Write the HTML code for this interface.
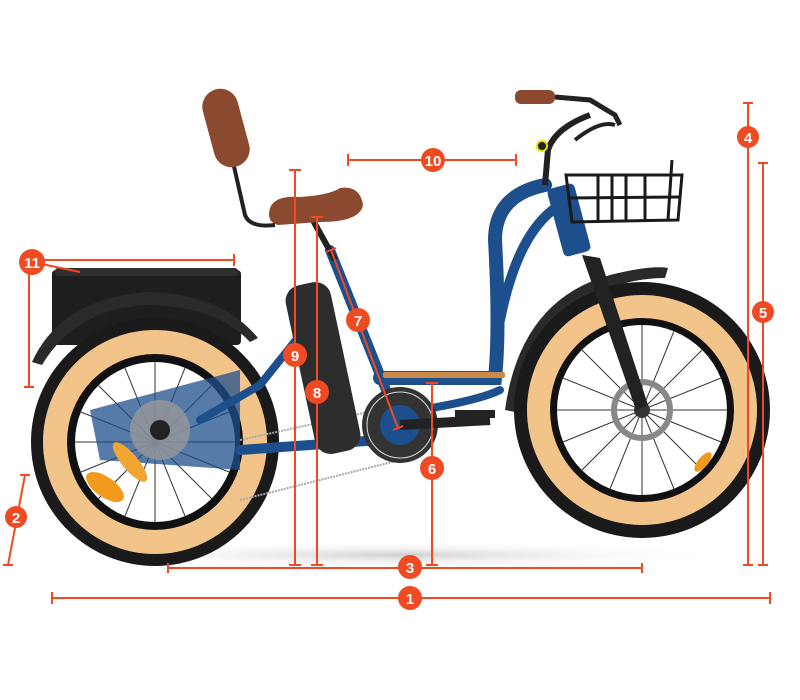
<!DOCTYPE html>
<html><head><meta charset="utf-8">
<style>
html,body{margin:0;padding:0;background:#fff;}
svg{display:block;}
text{font-family:"Liberation Sans",sans-serif;font-weight:bold;}
</style></head>
<body>
<svg width="800" height="700" viewBox="0 0 800 700" xmlns="http://www.w3.org/2000/svg">
<defs>
<radialGradient id="sh" cx="50%" cy="50%" r="50%">
<stop offset="0" stop-color="#bbb" stop-opacity="0.7"/><stop offset="1" stop-color="#fff" stop-opacity="0"/>
</radialGradient>
</defs>
<!-- shadows -->
<ellipse cx="400" cy="555" rx="330" ry="14" fill="url(#sh)"/>

<!-- rear box -->
<rect x="52" y="270" width="189" height="75" rx="4" fill="#1e1e1e"/>
<rect x="55" y="268" width="183" height="8" rx="3" fill="#2e2e2e"/>
<!-- rear fender -->
<path d="M32 362 Q60 300 145 292 Q220 292 258 338 L250 342 Q215 305 145 305 Q75 310 42 365 Z" fill="#2a2a2a"/>

<!-- rear wheel -->
<circle cx="155" cy="442" r="124" fill="#1a1a1a"/>
<circle cx="155" cy="442" r="112" fill="#f2c48a"/>
<circle cx="155" cy="442" r="88" fill="#111"/>
<circle cx="155" cy="442" r="80" fill="#fff"/>
<g stroke="#333" stroke-width="1">
<line x1="155" y1="362" x2="155" y2="522"/><line x1="75" y1="442" x2="235" y2="442"/>
<line x1="98" y1="385" x2="212" y2="499"/><line x1="98" y1="499" x2="212" y2="385"/>
<line x1="125" y1="368" x2="185" y2="516"/><line x1="81" y1="472" x2="229" y2="412"/>
<line x1="185" y1="368" x2="125" y2="516"/><line x1="81" y1="412" x2="229" y2="472"/>
</g>
<path d="M90 410 L240 370 L240 470 L100 460 Z" fill="#1d4f8c" opacity="0.75"/>
<circle cx="160" cy="430" r="30" fill="#999" opacity="0.8"/>
<circle cx="160" cy="430" r="10" fill="#222"/>
<ellipse cx="105" cy="487" rx="22" ry="10" transform="rotate(35 105 487)" fill="#f29a1e"/>
<ellipse cx="130" cy="462" rx="25" ry="8" transform="rotate(50 130 462)" fill="#f2a533"/>

<!-- front fender -->
<path d="M505 410 Q520 300 610 275 Q650 265 668 268 L665 278 Q610 278 560 315 Q520 350 515 412 Z" fill="#2a2a2a"/>

<!-- front wheel -->
<circle cx="642" cy="410" r="128" fill="#1a1a1a"/>
<circle cx="642" cy="410" r="115" fill="#f2c48a"/>
<circle cx="642" cy="410" r="92" fill="#111"/>
<circle cx="642" cy="410" r="85" fill="#fff"/>
<g stroke="#333" stroke-width="1">
<line x1="642" y1="325" x2="642" y2="495"/><line x1="557" y1="410" x2="727" y2="410"/>
<line x1="582" y1="350" x2="702" y2="470"/><line x1="582" y1="470" x2="702" y2="350"/>
<line x1="610" y1="331" x2="674" y2="489"/><line x1="563" y1="442" x2="721" y2="378"/>
<line x1="674" y1="331" x2="610" y2="489"/><line x1="563" y1="378" x2="721" y2="442"/>
</g>
<circle cx="642" cy="410" r="28" fill="none" stroke="#888" stroke-width="6"/>
<circle cx="642" cy="410" r="8" fill="#333"/>
<ellipse cx="703" cy="462" rx="12" ry="5" transform="rotate(-50 703 462)" fill="#f29a1e"/>

<!-- chain -->
<line x1="240" y1="440" x2="400" y2="405" stroke="#aaa" stroke-width="2" stroke-dasharray="2 1"/>
<line x1="240" y1="500" x2="400" y2="460" stroke="#aaa" stroke-width="2" stroke-dasharray="2 1"/>

<!-- frame -->
<g fill="none" stroke="#1d4f8c" stroke-linecap="round">
<path d="M200 420 L260 385 L320 310" stroke-width="8"/>
<path d="M240 450 L380 440" stroke-width="10"/>
<path d="M330 250 L400 425" stroke-width="10"/>
<path d="M380 378 L495 378 Q500 330 495 240 Q495 195 545 185" stroke-width="14"/>
<path d="M500 320 Q520 220 570 200" stroke-width="10"/>
<path d="M420 410 Q480 400 500 390" stroke-width="8"/>
</g>
<rect x="555" y="185" width="28" height="70" rx="5" fill="#1d4f8c" transform="rotate(-15 569 220)"/>
<!-- fork -->
<path d="M582 255 L600 258 L648 405 L636 410 Z" fill="#222"/>
<!-- footboard -->
<rect x="383" y="372" width="122" height="6" rx="2" fill="#c98a4a"/>
<!-- battery -->
<rect x="300" y="282" width="46" height="172" rx="16" fill="#2d2d2d" transform="rotate(-12 323 368)"/>
<!-- chainring -->
<circle cx="400" cy="425" r="38" fill="#333"/>
<circle cx="400" cy="425" r="33" fill="none" stroke="#ddd" stroke-width="1"/>
<circle cx="400" cy="425" r="20" fill="#1d4f8c"/>
<line x1="400" y1="425" x2="490" y2="420" stroke="#222" stroke-width="10"/>
<rect x="455" y="410" width="40" height="8" fill="#222"/>

<!-- seat -->
<line x1="310" y1="215" x2="335" y2="260" stroke="#222" stroke-width="6"/>
<path d="M270 208 Q275 195 300 197 Q330 195 340 188 Q360 185 363 205 Q360 222 320 222 L278 225 Q266 222 270 208 Z" fill="#8b4a2f"/>
<!-- backrest -->
<path d="M228 140 L245 215 Q250 228 275 225" fill="none" stroke="#222" stroke-width="4"/>
<rect x="208" y="88" width="36" height="80" rx="18" fill="#8b4a2f" transform="rotate(-15 226 128)"/>

<!-- stem & handlebar -->
<path d="M545 185 L548 150 Q555 128 590 115" fill="none" stroke="#222" stroke-width="6"/>
<circle cx="542" cy="146" r="5" fill="#222" stroke="#e8e000" stroke-width="2"/>
<rect x="515" y="90" width="40" height="14" rx="6" fill="#8b4a2f"/>
<path d="M555 97 L590 100 L615 115 L620 125" fill="none" stroke="#222" stroke-width="5"/>
<path d="M575 140 Q600 120 615 125" fill="none" stroke="#222" stroke-width="4"/>
<!-- basket -->
<g fill="none" stroke="#1a1a1a" stroke-width="3">
<path d="M566 175 L682 175 L678 220 L572 222 Z"/>
<line x1="568" y1="198" x2="680" y2="197"/>
<line x1="598" y1="175" x2="598" y2="222"/><line x1="612" y1="175" x2="612" y2="222"/>
<line x1="626" y1="175" x2="626" y2="222"/><line x1="645" y1="175" x2="645" y2="222"/>
<line x1="672" y1="160" x2="668" y2="220"/>
</g>

<!-- dimension lines -->
<g stroke="#f04a22" stroke-width="2" fill="none">
<line x1="52" y1="598" x2="770" y2="598"/><line x1="52" y1="592" x2="52" y2="604"/><line x1="770" y1="592" x2="770" y2="604"/>
<line x1="25" y1="475" x2="8" y2="565"/><line x1="20" y1="475" x2="30" y2="475"/><line x1="3" y1="565" x2="13" y2="565"/>
<line x1="168" y1="568" x2="642" y2="568"/><line x1="168" y1="563" x2="168" y2="573"/><line x1="642" y1="563" x2="642" y2="573"/>
<line x1="748" y1="103" x2="748" y2="565"/><line x1="743" y1="103" x2="753" y2="103"/><line x1="743" y1="565" x2="753" y2="565"/>
<line x1="763" y1="163" x2="763" y2="565"/><line x1="758" y1="163" x2="768" y2="163"/><line x1="758" y1="565" x2="768" y2="565"/>
<line x1="432" y1="383" x2="432" y2="565"/><line x1="426" y1="383" x2="438" y2="383"/><line x1="426" y1="565" x2="438" y2="565"/>
<line x1="331" y1="250" x2="398" y2="428"/><line x1="326" y1="252" x2="336" y2="248"/><line x1="393" y1="430" x2="403" y2="426"/>
<line x1="317" y1="217" x2="317" y2="565"/><line x1="311" y1="217" x2="323" y2="217"/><line x1="311" y1="565" x2="323" y2="565"/>
<line x1="295" y1="170" x2="295" y2="565"/><line x1="289" y1="170" x2="301" y2="170"/><line x1="289" y1="565" x2="301" y2="565"/>
<line x1="348" y1="160" x2="516" y2="160"/><line x1="348" y1="154" x2="348" y2="166"/><line x1="516" y1="154" x2="516" y2="166"/>
<line x1="32" y1="260" x2="234" y2="260"/><line x1="234" y1="254" x2="234" y2="266"/>
<line x1="29" y1="262" x2="29" y2="387"/><line x1="24" y1="387" x2="34" y2="387"/>
<line x1="32" y1="262" x2="80" y2="272"/>
</g>
<g fill="#f04a22">
<circle cx="410" cy="598" r="12"/><circle cx="16" cy="517" r="11"/><circle cx="410" cy="567" r="12"/>
<circle cx="748" cy="137" r="11"/><circle cx="763" cy="312" r="11"/><circle cx="432" cy="468" r="12"/>
<circle cx="358" cy="320" r="12"/><circle cx="317" cy="392" r="12"/><circle cx="295" cy="355" r="12"/>
<circle cx="433" cy="160" r="12"/><circle cx="32" cy="262" r="13"/>
</g>
<g fill="#fff" font-size="15" text-anchor="middle">
<text x="410" y="604">1</text><text x="16" y="523">2</text><text x="410" y="573">3</text>
<text x="748" y="143">4</text><text x="763" y="318">5</text><text x="432" y="474">6</text>
<text x="358" y="326">7</text><text x="317" y="398">8</text><text x="295" y="361">9</text>
<text x="433" y="166">10</text><text x="32" y="268">11</text>
</g>
</svg>
</body></html>
